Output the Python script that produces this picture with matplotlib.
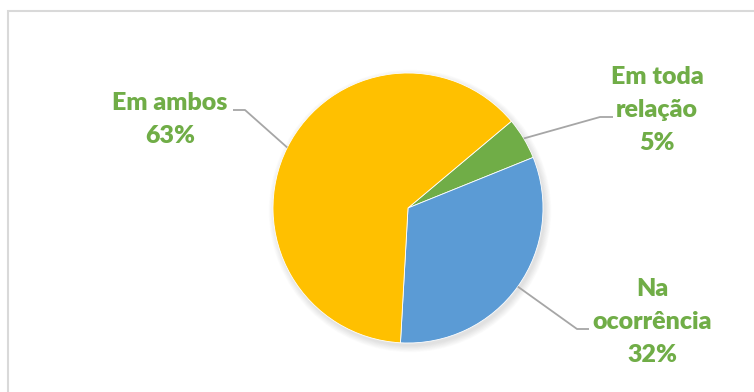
import numpy as np
import matplotlib.pyplot as plt
from matplotlib.patches import Circle, Rectangle

# data
labels = ["Em toda\nrelação", "Na\nocorrência", "Em ambos"]
shares = [5, 32, 63]
colors = ["#70AD47", "#5B9BD5", "#FFC000"]

W, H = 754, 392
TEXT_GREEN = "#70AD47"

# layout (pixels, y measured from top)
center_px = (408, 208)
radius = 135
# elbow point and end of horizontal leader, text anchor (center x, last baseline)
elbows = [(600, 117), (577, 329), (245, 110)]
ends = [(613, 117), (589, 329), (233, 110)]
text_pos = [(657, 150), (652, 362), (170, 143)]


def flip(p):
    return (p[0], H - p[1])


fig = plt.figure(figsize=(W / 100, H / 100), dpi=100)
ax = fig.add_axes([0, 0, 1, 1])

cx, cy = flip(center_px)

# soft shadow under the pie
for i in range(10):
    ax.add_patch(Circle((cx + 2, cy - 3), radius + i * 0.7, color="black",
                        alpha=0.012, lw=0, zorder=1))

wedges, _ = ax.pie(
    shares,
    colors=colors,
    startangle=40,
    counterclock=False,
    center=(cx, cy),
    radius=radius,
    wedgeprops=dict(edgecolor="white", linewidth=0.6, zorder=2),
)

total = sum(shares)
for w, lab, share, el, en, tp in zip(wedges, labels, shares, elbows, ends, text_pos):
    mid = np.deg2rad((w.theta1 + w.theta2) / 2)
    edge = (cx + radius * np.cos(mid), cy + radius * np.sin(mid))
    e1 = flip(el)
    e2 = flip(en)
    ax.plot([edge[0], e1[0], e2[0]], [edge[1], e1[1], e2[1]],
            color="#A6A6A6", lw=1.3, zorder=3, solid_capstyle="butt")
    tx, ty = flip(tp)
    ax.text(tx, ty, f"{lab}\n{round(100 * share / total)}%", ha="center",
            va="baseline", multialignment="center", color=TEXT_GREEN,
            fontsize=18, fontweight="heavy", family="Lato", linespacing=1.6,
            zorder=4)

# chart area border (right and bottom lie outside the crop)
ax.add_patch(Rectangle((8, -20), W + 20, H - 11 + 20, fill=False,
                       edgecolor="#D9D9D9", lw=1.5, zorder=0))

ax.set_xlim(0, W)
ax.set_ylim(0, H)
ax.set_aspect("equal")
ax.axis("off")

fig.savefig("out.png", dpi=100, facecolor="white")
